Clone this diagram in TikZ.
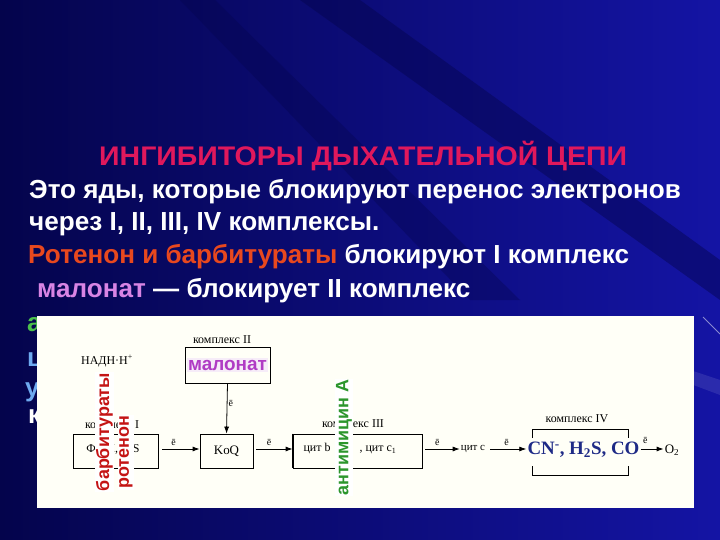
\documentclass[tikz,border=0pt]{standalone}
\usepackage{fontspec}
\setmainfont{Liberation Serif}
\setsansfont{Liberation Sans}
\usetikzlibrary{arrows.meta}

\definecolor{navy}{HTML}{04044C}
\definecolor{slideblue}{HTML}{1414A4}
\definecolor{titlered}{HTML}{E0185C}
\definecolor{rotred}{HTML}{E8481E}
\definecolor{malviolet}{HTML}{D884E4}
\definecolor{boxviolet}{HTML}{B03CC4}
\definecolor{lavender}{HTML}{F6ECF8}
\definecolor{drugred}{HTML}{C41414}
\definecolor{druggreen}{HTML}{2C962C}
\definecolor{antigreen}{HTML}{4CC04C}
\definecolor{cyanblue}{HTML}{6EAAF0}
\definecolor{poisonblue}{HTML}{1E2A86}

\begin{document}
\begin{tikzpicture}[x=1bp,y=-1bp,
  slidetext/.style={anchor=base west,inner sep=0pt,text=white,font=\sffamily\bfseries\fontsize{26.2}{30}\selectfont},
  cplx/.style={draw,line width=0.8bp,inner sep=0pt},
  cplxlab/.style={inner sep=0pt,font=\fontsize{12}{14}\selectfont},
  chem/.style={inner sep=1bp,font=\fontsize{12}{14}\selectfont},
  elec/.style={inner sep=0pt,font=\fontsize{10}{12}\selectfont},
  drug/.style={rotate=90,fill=white,inner sep=1bp,font=\sffamily\bfseries\fontsize{18}{20}\selectfont},
  arr/.style={line width=0.8bp,-{Latex[length=7bp,width=5bp]}}]
\useasboundingbox (0,0) rectangle (720,540);

% background
\shade[left color=navy,right color=slideblue] (0,0) rectangle (720,540);
\fill[navy,opacity=0.45] (300,0) -- (360,0) -- (720,260) -- (720,300) -- cycle;
\fill[navy,opacity=0.35] (180,0) -- (215,0) -- (520,300) -- (470,300) -- cycle;
\fill[white,opacity=0.10] (600,340) -- (720,380) -- (720,395) -- (600,350) -- cycle;
\draw[white,opacity=0.5,line width=1bp] (703,317) -- (720,334);

% slide text
\node[slidetext,text=titlered,font=\sffamily\bfseries\fontsize{27}{30}\selectfont] (title) at (99,166) {\scalebox{1.06}[1]{ИНГИБИТОРЫ ДЫХАТЕЛЬНОЙ ЦЕПИ}};
\node[slidetext] (line1) at (29,199) {Это яды, которые блокируют перенос электронов};
\node[slidetext] (line2) at (29,231) {через I, II, III, IV комплексы.};
\node[slidetext] (line3) at (28,264) {{\color{rotred}Ротенон и барбитураты} блокируют I комплекс};
\node[slidetext] (line4) at (37,297) {{\color{malviolet}малонат} — блокирует II комплекс};
\node[slidetext,text=antigreen] (line5) at (27,331) {а};
\node[slidetext,text=cyanblue] (line6) at (27,366) {ц};
\node[slidetext,text=cyanblue] (line7) at (25,396) {у};
\node[slidetext] (line8) at (28,423) {к};

% white panel
\fill[white!97!yellow] (37,316) rectangle (694,508);

% respiratory chain
\node[chem] (nadh) at (107,361) {НАДН·Н\textsuperscript{+}};

\node[cplxlab] (c2lab) at (222,340) {комплекс II};
\node[cplx,minimum width=85bp,minimum height=36bp] (c2) at (227.5,365) {};
\node[fill=lavender,text=boxviolet,inner sep=1.5bp,font=\sffamily\bfseries\fontsize{19}{21}\selectfont] (malonat) at (227.5,365) {малонат};

\node[cplxlab] (c1lab) at (112,425) {комплекс I};
\node[cplx,minimum width=85bp,minimum height=34bp] (c1) at (115.5,451) {};
\node[chem] (c1txt) at (113,449) {ФМН, FeS};

\node[cplx,minimum width=53bp,minimum height=34bp,font=\fontsize{13}{15}\selectfont] (koq) at (226.5,451) {KoQ};

\node[cplxlab] (c3lab) at (353,424) {комплекс III};
\node[cplx,minimum width=129bp,minimum height=34bp] (c3) at (357.5,451) {};
\draw[line width=1.6bp] (c3.north west) -- (c3.south west);
\node[chem] (cytb) at (317,449) {цит b};
\node[chem] (cytc1) at (378,450) {, цит c\textsubscript{1}};

\node[chem,font=\fontsize{11}{13}\selectfont] (cytc) at (473,449) {цит с};

\node[cplxlab] (c4lab) at (577,419) {комплекс IV};
\draw[line width=0.8bp] (532,438) -- (532,429) -- (628,429) -- (628,438);
\draw[line width=0.8bp] (532,466) -- (532,475) -- (628,475) -- (628,466);
\node[inner sep=1bp,text=poisonblue,font=\bfseries\fontsize{19}{21}\selectfont] (poison) at (583.5,450) {CN\textsuperscript{-}, H\textsubscript{2}S, CO};

\node[chem,font=\fontsize{13}{15}\selectfont] (o2) at (672,450) {O\textsubscript{2}};

% electron flow
\draw[arr] ([xshift=4bp]c1.east |- 0,449) -- (koq.west |- 0,449) node[elec,pos=0.3,above=3bp] {ē};
\draw[arr] ([xshift=3bp]koq.east |- 0,449) -- (c3.west |- 0,449) node[elec,pos=0.35,above=3bp] {ē};
\draw[arr] (c2.south) -- (koq.north) node[elec,pos=0.4,right=1bp] {ē};
\draw[arr] ([xshift=3bp]c3.east |- 0,449) -- (cytc.west |- 0,449) node[elec,pos=0.35,above=3bp] {ē};
\draw[arr] ([xshift=4bp]cytc.east |- 0,449) -- (poison.west |- 0,449) node[elec,pos=0.45,above=3bp] {ē};
\draw[arr] (poison.east |- 0,449) -- (o2.west |- 0,449) node[elec,pos=0.2,above=5bp] {ē};

% inhibitors
\node[drug,text=drugred] (barb) at (104.5,432) {барбитураты};
\node[drug,text=drugred] (roten) at (126,452.5) {ротенон};
\node[drug,text=druggreen] (anti) at (344,437.5) {антимицин А};
\end{tikzpicture}
\end{document}
